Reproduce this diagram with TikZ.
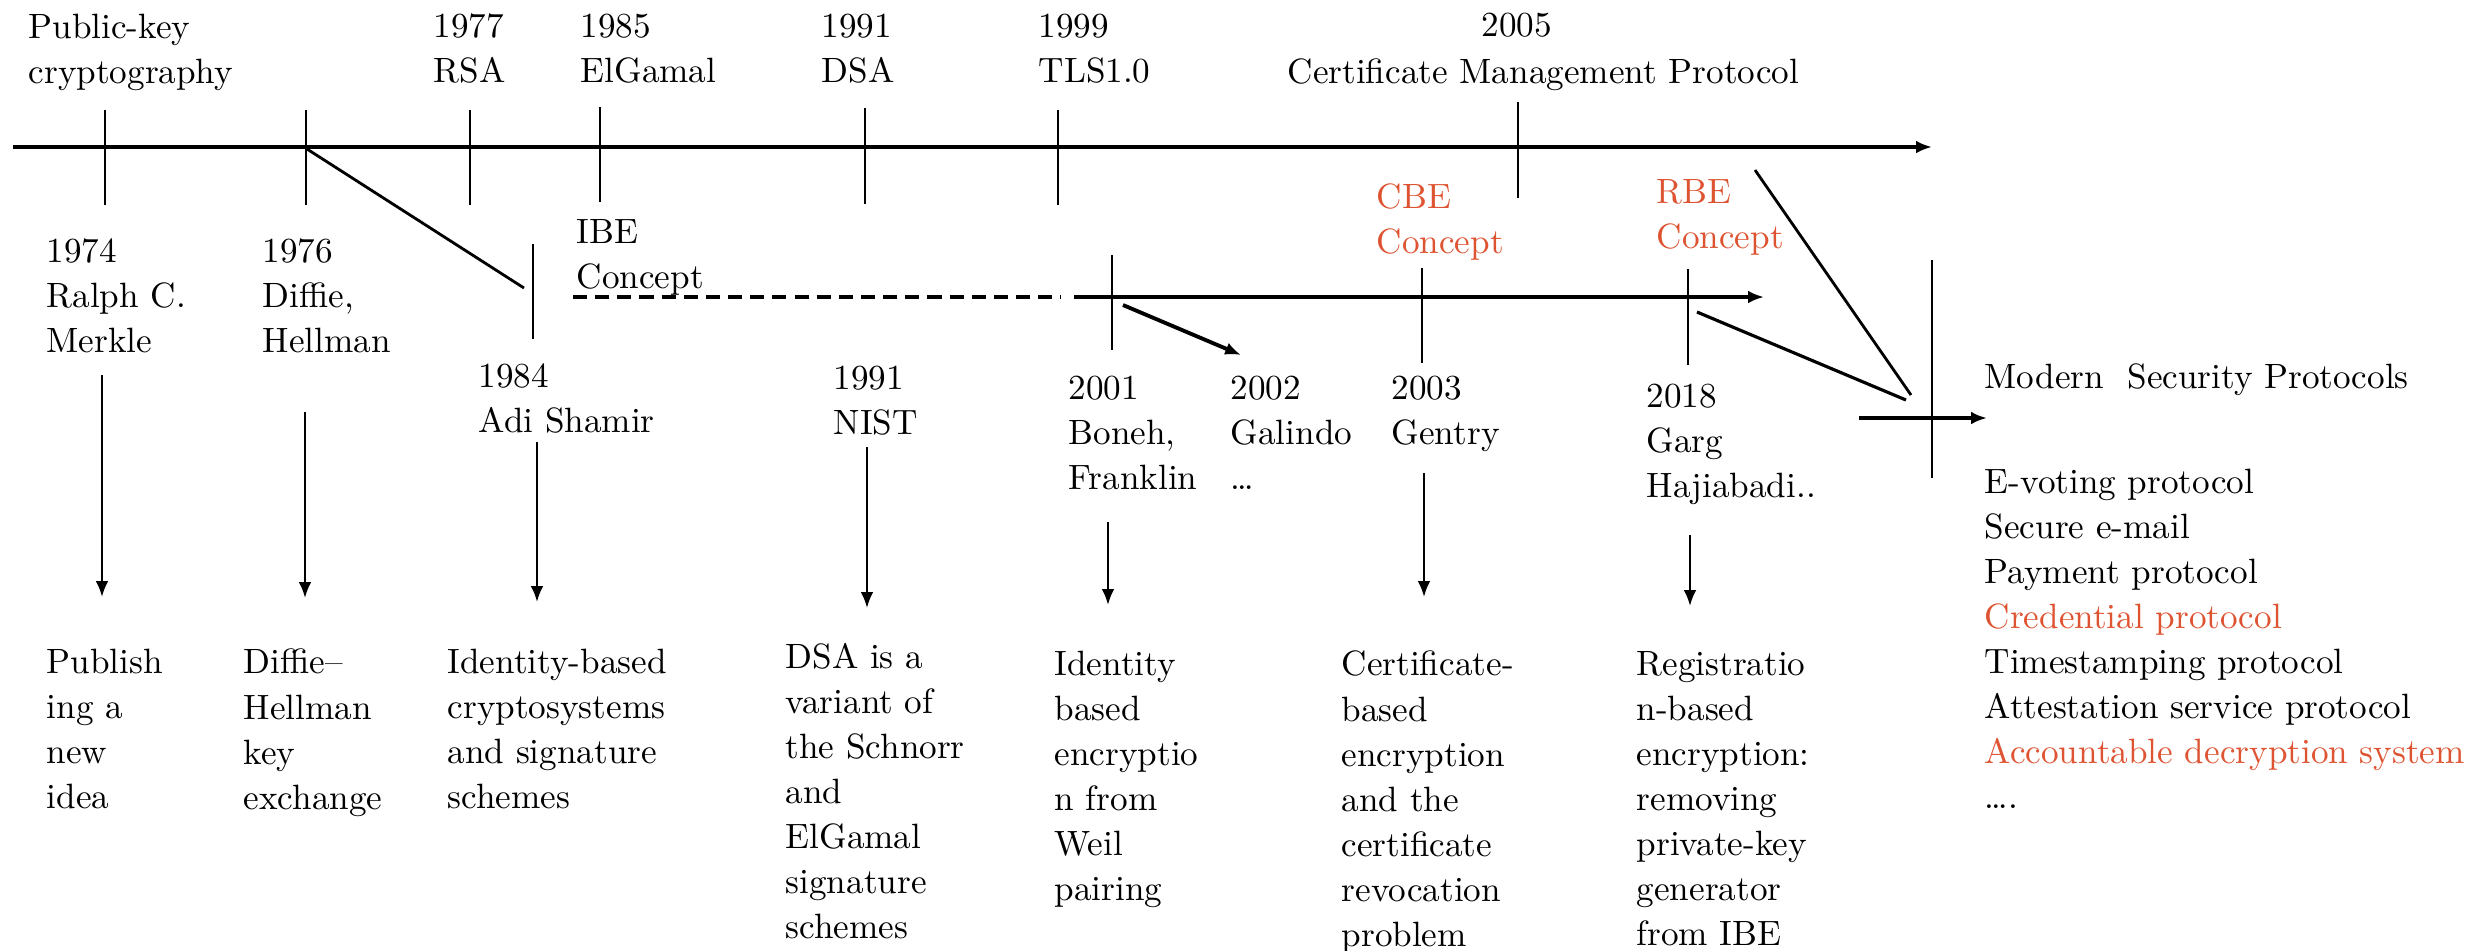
\documentclass[tikz,border=0pt]{standalone}
\usepackage{tikz}
\usetikzlibrary{arrows.meta}
\definecolor{accent}{RGB}{222,84,50}

\begin{document}
\begin{tikzpicture}[
    x=0.01cm, y={(0cm,-0.01cm)},
    >={Latex[length=4.5pt,width=3.6pt]},
    lbl/.style={anchor=north west,yshift=7.26pt,inner sep=0pt,align=left,
      font=\fontsize{10}{12.8}\selectfont,execute at begin node=\strut},
    oneline/.style={lbl,yshift=1.7pt},
    redlbl/.style={lbl,text=accent},
    axis/.style={draw,line width=1.1pt},
    tickline/.style={draw,line width=0.7pt},
    down/.style={draw,->,line width=0.7pt}
  ]
    \useasboundingbox (0,0) rectangle (2484,950);

    % labels above the main line
    \node[lbl] (pk)   at (28,39)   {Public-key\\cryptography};
    \node[lbl] (rsa)  at (433,39)  {1977\\RSA};
    \node[lbl] (elg)  at (580,39)  {1985\\ElGamal};
    \node[lbl] (dsa)  at (821,39)  {1991\\DSA};
    \node[lbl] (tls)  at (1038,39) {1999\\TLS1.0};
    \node[oneline] (cmpy) at (1481,36) {2005};
    \node[oneline] (cmp)  at (1287,83) {Certificate Management Protocol};

    % labels below
    \node[lbl] (merkle)  at (46,263)   {1974\\Ralph C.\\Merkle};
    \node[lbl] (dh)      at (262,264)  {1976\\Diffie,\\Hellman};
    \node[lbl] (ibe)     at (576,244)  {IBE\\Concept};
    \node[lbl] (shamir)  at (478,388)  {1984\\Adi Shamir};
    \node[lbl] (nist)    at (833,391)  {1991\\NIST};
    \node[lbl] (bf)      at (1068,401) {2001\\Boneh,\\Franklin};
    \node[lbl] (galindo) at (1230,401) {2002\\Galindo\\\dots};
    \node[lbl] (gentry)  at (1391,401) {2003\\Gentry};
    \node[lbl] (garg)    at (1646,409) {2018\\Garg\\Hajiabadi..};
    \node[redlbl] (cbe)  at (1376,209) {CBE\\Concept};
    \node[redlbl] (rbe)  at (1656,204) {RBE\\Concept};
    \node[oneline] (modern) at (1984,388) {Modern\ \ Security Protocols};
    \node[lbl] (protos)  at (1984,494) {E-voting protocol\\Secure e-mail\\Payment protocol\\
      \textcolor{accent}{Credential protocol}\\Timestamping protocol\\Attestation service protocol\\
      \textcolor{accent}{Accountable decryption system}\\\dots.};

    % results
    \node[lbl] (idea) at (46,674)   {Publish\\ing a\\new\\idea};
    \node[lbl] (dhx)  at (243,674)  {Diffie--\\Hellman\\key\\exchange};
    \node[lbl] (ibs)  at (447,674)  {Identity-based\\cryptosystems\\and signature\\schemes};
    \node[lbl] (dsax) at (785,668)  {DSA is a\\variant of\\the Schnorr\\and\\ElGamal\\signature\\schemes};
    \node[lbl] (ibex) at (1054,676) {Identity\\based\\encryptio\\n from\\Weil\\pairing};
    \node[lbl] (cbex) at (1341,676) {Certificate-\\based\\encryption\\and the\\certificate\\revocation\\problem};
    \node[lbl] (rbex) at (1636,676) {Registratio\\n-based\\encryption:\\removing\\private-key\\generator\\from IBE};

    % main line
    \coordinate (m0) at (13,147);
    \coordinate (m1) at (1932,147);
    \path (m0) edge[axis,->] (m1);
    \coordinate (t1a) at (105,110);  \coordinate (t1b) at (105,205);
    \coordinate (t2a) at (306,110);  \coordinate (t2b) at (306,205);
    \coordinate (t3a) at (470,110);  \coordinate (t3b) at (470,205);
    \coordinate (t4a) at (600,107);  \coordinate (t4b) at (600,202);
    \coordinate (t5a) at (865,108);  \coordinate (t5b) at (865,204);
    \coordinate (t6a) at (1058,110); \coordinate (t6b) at (1058,205);
    \coordinate (t7a) at (1518,102); \coordinate (t7b) at (1518,198);
    \path (t1a) edge[tickline] (t1b)
          (t2a) edge[tickline] (t2b)
          (t3a) edge[tickline] (t3b)
          (t4a) edge[tickline] (t4b)
          (t5a) edge[tickline] (t5b)
          (t6a) edge[tickline] (t6b)
          (t7a) edge[tickline] (t7b);

    % IBE line
    \coordinate (d0) at (573,297);
    \coordinate (d1) at (1061,297);
    \coordinate (i0) at (1074,297);
    \coordinate (i1) at (1764,297);
    \path (d0) edge[axis,dash pattern=on 4pt off 2.3pt] (d1)
          (i0) edge[axis,->] (i1);
    \coordinate (s1a) at (533,244);  \coordinate (s1b) at (533,339);
    \coordinate (s2a) at (1112,255); \coordinate (s2b) at (1112,350);
    \coordinate (s3a) at (1422,268); \coordinate (s3b) at (1422,363);
    \coordinate (s4a) at (1688,269); \coordinate (s4b) at (1688,365);
    \path (s1a) edge[tickline] (s1b)
          (s2a) edge[tickline] (s2b)
          (s3a) edge[tickline] (s3b)
          (s4a) edge[tickline] (s4b);

    % links
    \coordinate (l1a) at (307,149);  \coordinate (l1b) at (524,288);
    \coordinate (l2a) at (1123,305); \coordinate (l2b) at (1241,355);
    \coordinate (l3a) at (1697,312); \coordinate (l3b) at (1906,400);
    \coordinate (l4a) at (1755,170); \coordinate (l4b) at (1911,395);
    \path (l1a) edge[line width=0.8pt] (l1b)
          (l2a) edge[line width=1.1pt,->] (l2b)
          (l3a) edge[line width=0.9pt] (l3b)
          (l4a) edge[line width=0.8pt] (l4b);

    % modern line
    \coordinate (n0) at (1859,418);
    \coordinate (n1) at (1987,418);
    \coordinate (u0) at (1932,260);
    \coordinate (u1) at (1932,478);
    \path (n0) edge[axis,->] (n1)
          (u0) edge[tickline] (u1);

    % down arrows
    \coordinate (a1) at (102,375);  \coordinate (b1) at (102,597);
    \coordinate (a2) at (305,412);  \coordinate (b2) at (305,598);
    \coordinate (a3) at (537,442);  \coordinate (b3) at (537,602);
    \coordinate (a4) at (867,447);  \coordinate (b4) at (867,608);
    \coordinate (a5) at (1108,522); \coordinate (b5) at (1108,605);
    \coordinate (a6) at (1424,473); \coordinate (b6) at (1424,597);
    \coordinate (a7) at (1690,535); \coordinate (b7) at (1690,606);
    \path (a1) edge[down] (b1)
          (a2) edge[down] (b2)
          (a3) edge[down] (b3)
          (a4) edge[down] (b4)
          (a5) edge[down] (b5)
          (a6) edge[down] (b6)
          (a7) edge[down] (b7);
  \end{tikzpicture}
\end{document}
